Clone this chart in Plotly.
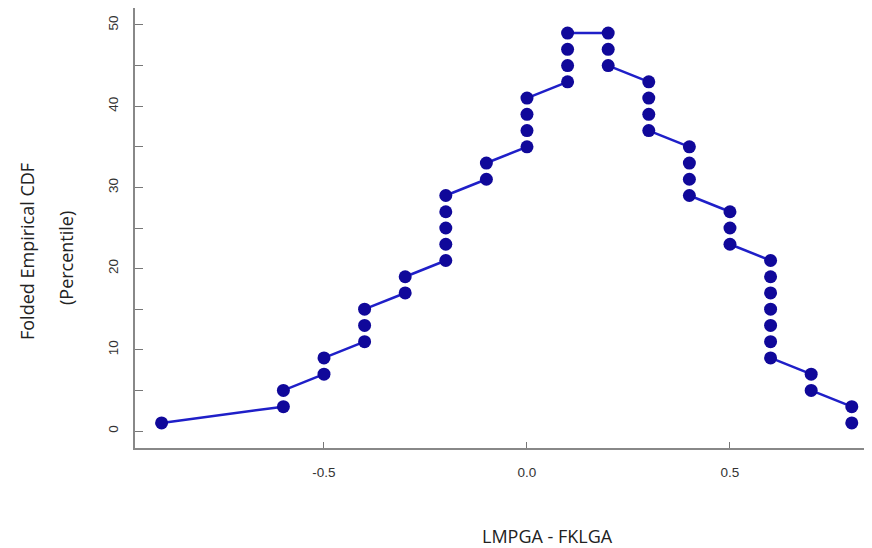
import plotly.graph_objects as go

x_vals = [-0.9, -0.6, -0.6, -0.5, -0.5, -0.4, -0.4, -0.4, -0.3, -0.3,
          -0.2, -0.2, -0.2, -0.2, -0.2, -0.1, -0.1, 0.0, 0.0, 0.0, 0.0,
          0.1, 0.1, 0.1, 0.1,
          0.2, 0.2, 0.2, 0.3, 0.3, 0.3, 0.3, 0.4, 0.4, 0.4, 0.4,
          0.5, 0.5, 0.5, 0.6, 0.6, 0.6, 0.6, 0.6, 0.6, 0.6,
          0.7, 0.7, 0.8, 0.8]
y_vals = [1, 3, 5, 7, 9, 11, 13, 15, 17, 19,
          21, 23, 25, 27, 29, 31, 33, 35, 37, 39, 41,
          43, 45, 47, 49,
          49, 47, 45, 43, 41, 39, 37, 35, 33, 31, 29,
          27, 25, 23, 21, 19, 17, 15, 13, 11, 9,
          7, 5, 3, 1]

y_tickvals = [0, 5, 10, 15, 20, 25, 30, 35, 40, 45, 50]
y_ticktext = ["0", "", "10", "", "20", "", "30", "", "40", "", "50"]
x_tickvals = [-0.5, 0.0, 0.5]
x_ticktext = ["-0.5", "0.0", "0.5"]

# connecting segments only between consecutive points at different x
seg_x, seg_y = [], []
for i in range(len(x_vals) - 1):
    if x_vals[i] != x_vals[i + 1]:
        seg_x += [x_vals[i], x_vals[i + 1], None]
        seg_y += [y_vals[i], y_vals[i + 1], None]

fig = go.Figure()
fig.add_trace(go.Scatter(
    x=seg_x, y=seg_y, mode="lines",
    line=dict(color="#1f1fc8", width=2.5),
    showlegend=False, hoverinfo="skip"))
fig.add_trace(go.Scatter(
    x=x_vals, y=y_vals, mode="markers",
    marker=dict(color="#10089a", size=13, line=dict(width=0)),
    showlegend=False, hoverinfo="skip"))

W, H = 864, 540
ML, MT, MB, MR = 127, 0, 100, 0
OFF = 8  # page body offset

fig.update_layout(
    width=W, height=H,
    margin=dict(l=ML, r=MR, t=MT, b=MB),
    paper_bgcolor="white", plot_bgcolor="white",
    font=dict(family="Open Sans, Arial, sans-serif", color="#333"),
    xaxis=dict(range=[-0.9655, 0.8498], tickvals=x_tickvals, ticktext=x_ticktext,
               ticks="inside", ticklen=6, tickcolor="#777", tickwidth=1,
               showline=True, linecolor="#888", linewidth=1.5,
               showgrid=False, zeroline=False,
               tickfont=dict(size=13.5, color="#333", family="Arial, sans-serif"),
               ticklabelstandoff=11),
    yaxis=dict(range=[-2.09, 52.09], tickvals=y_tickvals, ticktext=y_ticktext,
               ticks="inside", ticklen=8, tickcolor="#777", tickwidth=1,
               showline=True, linecolor="#888", linewidth=1.5,
               showgrid=False, zeroline=False, tickangle=-90,
               tickfont=dict(size=13.5, color="#333", family="Arial, sans-serif"),
               ticklabelstandoff=10),
    annotations=[
        dict(text="Folded Empirical CDF", x=27, y=252, xref="paper", yref="paper",
             showarrow=False, textangle=-90, font=dict(size=18, color="#222")),
        dict(text="(Percentile)", x=66, y=258, xref="paper", yref="paper",
             showarrow=False, textangle=-90, font=dict(size=18, color="#222")),
        dict(text="LMPGA - FKLGA", x=547, y=536, xref="paper", yref="paper",
             showarrow=False, font=dict(size=18, color="#222")),
    ],
)

# convert window pixel positions of annotations to paper coordinates
pw = W - ML - MR
ph = H - MT - MB
for a in fig.layout.annotations:
    a.x = (a.x - OFF - ML) / pw
    a.y = (H - MB - (a.y - OFF)) / ph
    a.xanchor = "center"
    a.yanchor = "middle"

fig.write_html("out.html")
